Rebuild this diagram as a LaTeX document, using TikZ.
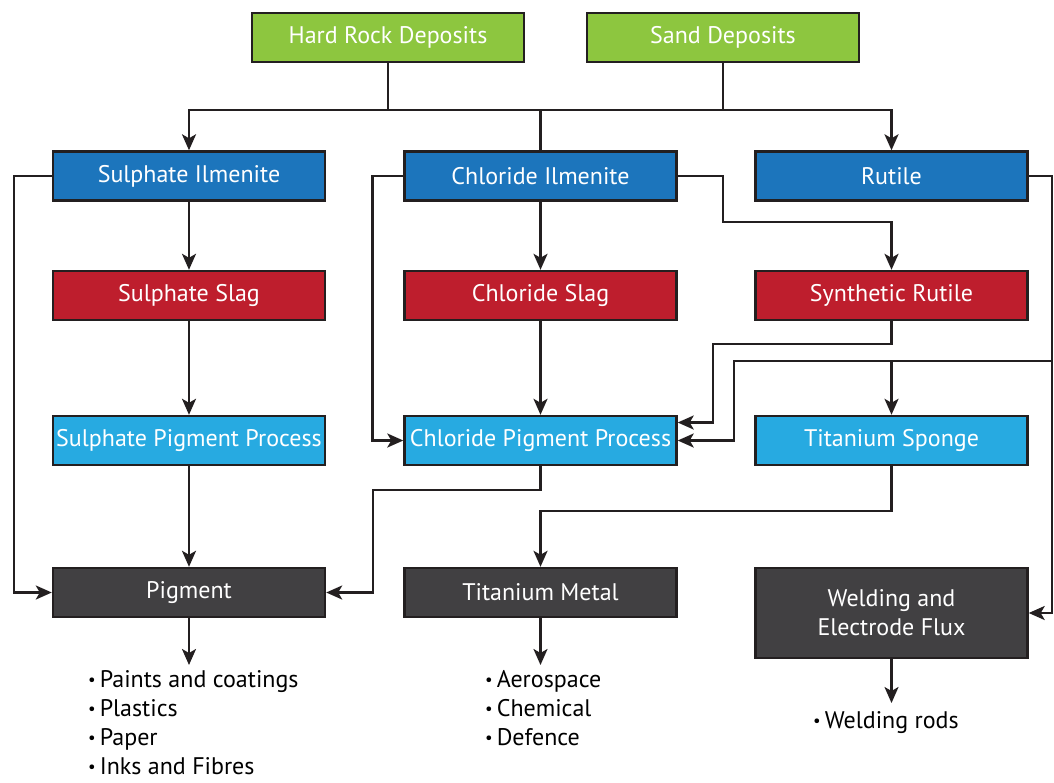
\documentclass[tikz,border=0pt]{standalone}
\usepackage{fontspec}
\setmainfont{PT Sans}
\usetikzlibrary{arrows.meta}
\usetikzlibrary{positioning}

\definecolor{oreGreen}{HTML}{8DC63F}
\definecolor{oreBlue}{HTML}{1C75BC}
\definecolor{slagRed}{HTML}{BE1E2D}
\definecolor{procBlue}{HTML}{27AAE1}
\definecolor{prodGrey}{HTML}{414042}
\definecolor{edgeGrey}{HTML}{231F20}

\newcommand{\itm}{\raisebox{0.12ex}{\scalebox{0.7}{\textbullet}}\,}

\begin{document}
\begin{tikzpicture}[x=1pt,y=-1pt,
    box/.style={rectangle,draw=edgeGrey,line width=2.4pt,text=white,
        minimum width=272pt,minimum height=49pt,inner sep=0pt,
        font=\fontsize{24}{29}\selectfont,align=center},
    deposit/.style={box,fill=oreGreen},
    ore/.style={box,fill=oreBlue},
    slag/.style={box,fill=slagRed},
    process/.style={box,fill=procBlue},
    product/.style={box,fill=prodGrey},
    uses/.style={inner sep=0pt,align=left,anchor=north west,
        font=\fontsize{24}{29}\selectfont},
    link/.style={draw=edgeGrey,line width=2.4pt},
    arr/.style={link,-{Stealth[length=16pt,width=14pt,inset=4pt]}}]
\useasboundingbox (0,0) rectangle (1054,782);

\node[deposit] (hr) at (388,37.5) {Hard Rock Deposits};
\node[deposit] (sd) at (723,37.5) {Sand Deposits};

\node[ore] (si) at (189,176) {Sulphate Ilmenite};
\node[ore] (ci) at (540.5,176) {Chloride Ilmenite};
\node[ore] (ru) at (891.5,176) {Rutile};

\node[slag] (ss) at (189,295.5) {Sulphate Slag};
\node[slag] (cs) at (540.5,295.5) {Chloride Slag};
\node[slag] (sr) at (891.5,295.5) {Synthetic Rutile};

\node[process] (spp) at (189,440.5) {Sulphate Pigment Process};
\node[process] (cpp) at (540.5,440.5) {Chloride Pigment Process};
\node[process] (ts) at (891.5,440.5) {Titanium Sponge};

\node[product] (pig) at (189,592.5) {Pigment};
\node[product] (tim) at (540.5,592.5) {Titanium Metal};
\node[product,minimum height=90pt] (wef) at (891.5,613) {Welding and\\Electrode Flux};

\node[uses] (pigUse) at (88,670) {\itm Paints and coatings\\\itm Plastics\\\itm Paper\\\itm Inks and Fibres};
\node[uses] (timUse) at (485,670) {\itm Aerospace\\\itm Chemical\\\itm Defence};
\node[uses] (wefUse) at (813,711) {\itm Welding rods};

\coordinate (bus) at (540.5,110);
\coordinate (rx) at (1052,361);

\draw[link] (hr.south) -- (hr.south |- bus);
\draw[link] (sd.south) -- (sd.south |- bus);
\draw[link] (bus) -- (ci.north);
\draw[arr] (bus) -| (si.north);
\draw[arr] (bus) -| (ru.north);

\draw[arr] (si.west) -- ++(-38,0) |- (pig.west);
\draw[arr] (si) -- (ss);
\draw[arr] (ss) -- (spp);
\draw[arr] (spp) -- (pig);
\draw[arr] (pig.south) -- ([yshift=5pt]pig.south |- pigUse.north);

\draw[arr] (ci.west) -- ++(-31,0) |- (cpp.west);
\draw[arr] (ci) -- (cs);
\draw[arr] (cs) -- (cpp);
\draw[arr] (ci.east) -- ++(45,0) -- ++(0,46) -| (sr.north);
\draw[arr] (sr.south) -- ++(0,23) -| ([xshift=35pt,yshift=18pt]cpp.east) -- ([yshift=18pt]cpp.east);

\draw[arr] (ru.east) -- (ru.east -| rx) |- (wef.east);
\draw[arr] (rx) -| ([xshift=56pt]cpp.east) -- (cpp.east);
\draw[arr] (ts.north |- rx) -- (ts.north);

\draw[arr] (cpp.south) -- ++(0,24) -| ([xshift=47pt]pig.east) -- (pig.east);
\draw[arr] (ts.south) -- ++(0,45) -| (tim.north);
\draw[arr] (tim.south) -- ([yshift=5pt]tim.south |- timUse.north);
\draw[arr] (wef.south) -- ([yshift=8pt]wef.south |- wefUse.north);
\end{tikzpicture}
\end{document}
